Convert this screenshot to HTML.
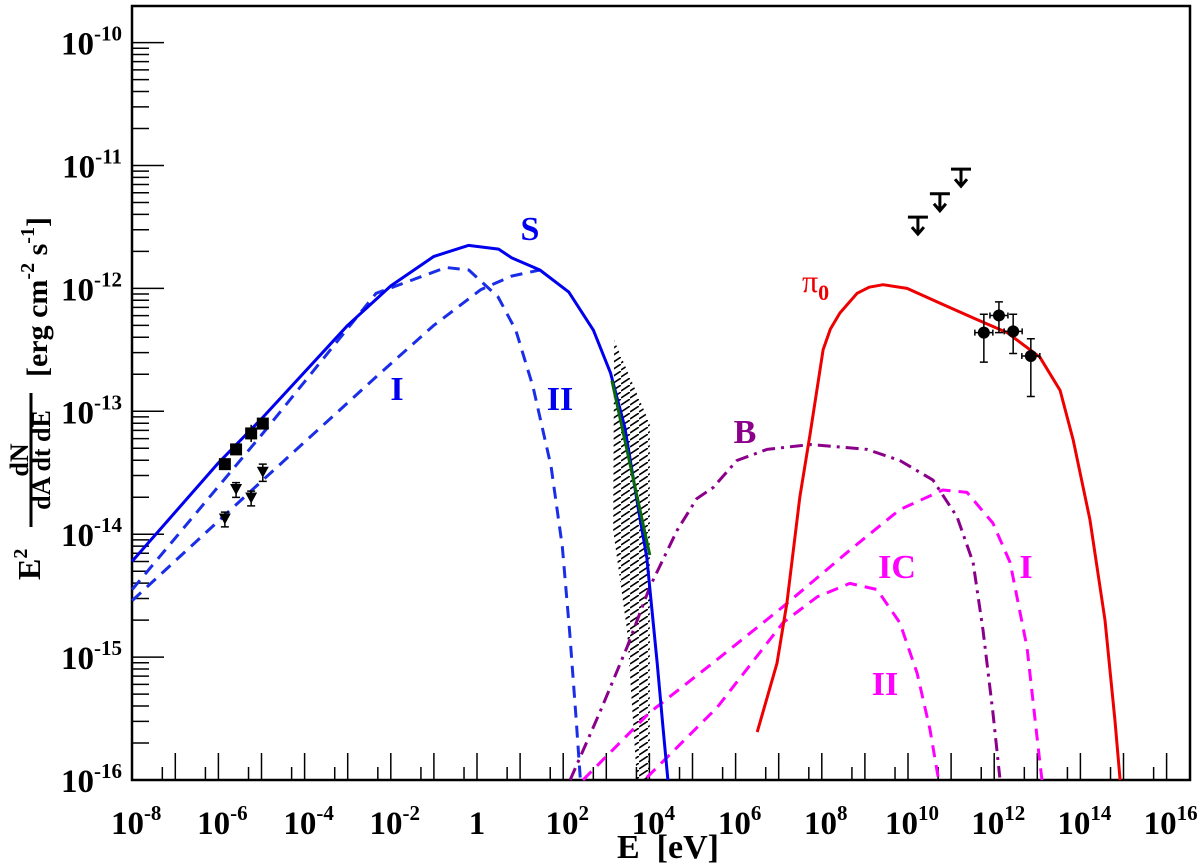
<!DOCTYPE html>
<html><head><meta charset="utf-8"><style>
html,body{margin:0;padding:0;background:#fff;}
svg{display:block;font-family:"Liberation Serif",serif;font-weight:bold;}
</style></head><body>
<svg id="chart" width="1200" height="867" viewBox="0 0 1200 867" xmlns="http://www.w3.org/2000/svg">
<defs>
<pattern id="hatch" patternUnits="userSpaceOnUse" width="9" height="7">
<line x1="0" y1="6" x2="9" y2="0" stroke="#000" stroke-width="1.6"/>
</pattern>
</defs>
<rect x="132" y="6" width="1058" height="774" fill="none" stroke="#000" stroke-width="2.5"/>
<g id="ticks"></g>
<g id="marks"></g>
<g id="labels">
<text x="530" y="240" fill="#0000ee" font-size="34" text-anchor="middle">S</text>
<text x="397" y="400" fill="#0000ee" font-size="34" text-anchor="middle">I</text>
<text x="560" y="410" fill="#0000ee" font-size="34" text-anchor="middle">II</text>
<text x="745" y="443" fill="#8b008b" font-size="34" text-anchor="middle">B</text>
<text x="897" y="578" fill="#ff00ff" font-size="34" text-anchor="middle">IC</text>
<text x="1026" y="578" fill="#ff00ff" font-size="34" text-anchor="middle">I</text>
<text x="885" y="695" fill="#ff00ff" font-size="34" text-anchor="middle">II</text>
<text x="802" y="292" fill="#ee0000" font-size="32" font-weight="normal">π<tspan font-size="22" dy="8" font-weight="bold">0</tspan></text>
<text x="617" y="858" font-size="34" xml:space="preserve">E  [eV]</text>
<g transform="translate(40,0) rotate(-90)">
<text x="-580" y="0" font-size="32">E<tspan font-size="20" dy="-13">2</tspan></text>
<text x="-460" y="-12" font-size="26" text-anchor="middle">dN</text>
<line x1="-527" y1="-9" x2="-393" y2="-9" stroke="#000" stroke-width="3"/>
<text x="-460" y="10" font-size="26" text-anchor="middle">dA dt dE</text>
<text x="-377" y="7" font-size="30">[erg cm<tspan font-size="20" dy="-13">-2</tspan><tspan dy="13"> s</tspan><tspan font-size="20" dy="-13">-1</tspan><tspan dy="13">]</tspan></text>
</g>
</g>
</svg>
<script>
const syncTotal = [[-8,-14.22],[-6,-13.42],[-4.97,-13.05],[-3,-12.3],[-2,-11.98],[-1,-11.74],[-0.2,-11.65],[0.5,-11.68],[0.8,-11.75],[1.46,-11.85],[2.13,-12.03],[2.7,-12.34],[3.1,-12.69],[3.43,-13.13],[3.76,-13.83],[3.94,-14.19],[4.18,-15.05],[4.32,-15.59],[4.43,-16]];
const syncI = [[-8,-14.54],[-4.97,-13.56],[-2.34,-12.72],[-1,-12.3],[0.09,-12.01],[0.8,-11.9],[1.46,-11.85]];
const syncII = [[-8,-14.45],[-4.97,-13.18],[-2.34,-12.04],[-0.72,-11.83],[-0.19,-11.85],[0.49,-12.07],[0.9,-12.34],[1.3,-12.8],[1.72,-13.45],[1.98,-14.1],[2.15,-14.8],[2.3,-15.5],[2.4,-16]];
const xrayFit = [[3.13,-12.75],[4.01,-14.17]];
const hatchBand = [[3.18,-12.42],[4.01,-13.1],[4.01,-16],[3.71,-16],[3.48,-14.78],[3.16,-13.97]];
const brems = [[2.16,-16],[2.85,-15.45],[3.48,-14.92],[4.01,-14.43],[4.64,-13.97],[5.1,-13.71],[5.48,-13.62],[6.03,-13.4],[6.73,-13.31],[7.73,-13.27],[9.05,-13.31],[9.81,-13.4],[10.58,-13.56],[11.14,-13.86],[11.51,-14.23],[11.74,-14.78],[11.97,-15.45],[12.13,-15.98]];
const icI = [[2.46,-16],[4.01,-15.45],[5.57,-15.02],[7.1,-14.59],[8.65,-14.13],[9.81,-13.8],[10.81,-13.64],[11.37,-13.66],[11.97,-13.91],[12.37,-14.23],[12.76,-14.92],[13.06,-15.86],[13.11,-16]];
const icII = [[3.94,-15.98],[5.57,-15.41],[7.1,-14.72],[7.89,-14.51],[8.65,-14.4],[9.28,-14.45],[9.81,-14.72],[10.21,-15.13],[10.51,-15.59],[10.7,-15.98]];
const pion = [[6.5,-15.61],[6.96,-15.05],[7.19,-14.56],[7.49,-13.7],[7.73,-13.18],[8.03,-12.5],[8.2,-12.33],[8.42,-12.2],[8.82,-12.04],[9.1,-11.99],[9.42,-11.97],[9.98,-12.0],[10.74,-12.12],[11.51,-12.24],[12.3,-12.36],[13.06,-12.56],[13.53,-12.83],[13.83,-13.23],[14.22,-13.88],[14.57,-14.7],[14.8,-15.51],[14.92,-16]];
const radioE = [-5.85,-5.59,-5.24,-4.97];
const radioF = [-13.43,-13.31,-13.18,-13.1];
const radioErr = [0.03,0.04,0.07,0.03];
const optE = [-5.85,-5.59,-5.24,-4.97];
const optF = [-13.88,-13.64,-13.71,-13.5];
const optErr = [0.06,0.06,0.06,0.07];
const tevE = [11.76,12.11,12.44,12.85];
const tevF = [-12.36,-12.22,-12.35,-12.55];
const tevLo = [-12.6,-12.36,-12.53,-12.88];
const tevHi = [-12.21,-12.11,-12.21,-12.41];
const ulE = [10.23,10.74,11.23];
const ulF = [-11.42,-11.23,-11.03];
const xTickLabels = ["10^-8","10^-6","10^-4","10^-2","1","10^2","10^4","10^6","10^8","10^10","10^12","10^14","10^16"];
const yTickLabels = ["10^-16","10^-15","10^-14","10^-13","10^-12","10^-11","10^-10"];

const NS="http://www.w3.org/2000/svg";
const X = v => 477 + 43.1*v;
const Y = v => 780 - (v+16)*122.9;
const ticks = document.getElementById('ticks');
const marks = document.getElementById('marks');
function mk(tag, attrs, parent){const e=document.createElementNS(NS,tag);for(const k in attrs)e.setAttribute(k,attrs[k]);parent.appendChild(e);return e;}
function supText(str, x, y, anchor, parent){
  const t=mk('text',{x:x,y:y,'font-size':33,'text-anchor':anchor},parent);
  const p=str.split('^');
  t.appendChild(document.createTextNode(p[0]));
  if(p[1]){const s=mk('tspan',{'font-size':21,dy:-14},t);s.textContent=p[1];}
  return t;
}
for(let d=-8; d<=16; d++){
  const l=mk('line',{x1:X(d),x2:X(d),y1:780,y2:753,stroke:'#000','stroke-width':1.5},ticks);
  
  
  const m=d+Math.log10(5);
  if(X(m)<1188){
    const s=mk('line',{x1:X(m),x2:X(m),y1:780,y2:767,stroke:'#000','stroke-width':1.5},ticks);
    
    
  }
}
xTickLabels.forEach((lab,i)=>{
  const t=supText(lab, X(-8+2*i)+(lab==="1"?0:4), 834, 'middle', ticks);
  
  
});
for(let d=-16; d<=-10; d++){
  const l=mk('line',{x1:132,x2:164,y1:Y(d),y2:Y(d),stroke:'#000','stroke-width':1.5},ticks);
  
  
  for(let k=2;k<=9;k++){
    const v=d+Math.log10(k);
    if(Y(v)<8) continue;
    const s=mk('line',{x1:132,x2:149,y1:Y(v),y2:Y(v),stroke:'#000','stroke-width':1.5},ticks);
    
    
  }
}
yTickLabels.forEach((lab,i)=>{
  const t=supText(lab, 122, Y(-16+i)+12, 'end', ticks);
  
  
});
function pts(arr){return arr.map(p=>X(p[0]).toFixed(1)+','+Y(p[1]).toFixed(1)).join(' ');}
const hb=mk('polygon',{points:pts(hatchBand),fill:'url(#hatch)',stroke:'none'},marks);


function curve(arr,color,dash,w){return mk('polyline',{points:pts(arr),fill:'none',stroke:color,'stroke-width':w||3,'stroke-dasharray':dash||'none','stroke-linejoin':'round'},marks);}
let c;
c=curve(syncI,'#1a2ee8','12 8');


c=curve(syncII,'#1a2ee8','12 8');


c=curve(brems,'#8b008b','13 6 3 6');


c=curve(icI,'#ff00ff','12 8');


c=curve(icII,'#ff00ff','12 8');


c=curve(syncTotal,'#0000ee');


c=curve(xrayFit,'#0a6a0a');


c=curve(pion,'#ee0000');


radioE.forEach((e,i)=>{
  const x=X(e),y=Y(radioF[i]);
  const eb=mk('line',{x1:x,x2:x,y1:Y(radioF[i]+radioErr[i]),y2:Y(radioF[i]-radioErr[i]),stroke:'#000','stroke-width':1.5},marks);
  
  
  const r=mk('rect',{x:x-6,y:y-6,width:12,height:12,fill:'#000'},marks);
  
  
});
optE.forEach((e,i)=>{
  const x=X(e),y=Y(optF[i]);
  const eb=mk('path',{d:`M${x},${Y(optF[i]+optErr[i])}V${Y(optF[i]-optErr[i])}M${x-4},${Y(optF[i]+optErr[i])}h8M${x-4},${Y(optF[i]-optErr[i])}h8`,stroke:'#000','stroke-width':1.5,fill:'none'},marks);
  
  
  const t=mk('polygon',{points:`${x-6},${y-6} ${x+6},${y-6} ${x},${y+5}`,fill:'#000'},marks);
  
  
});
tevE.forEach((e,i)=>{
  const x=X(e),y=Y(tevF[i]);
  const eb=mk('path',{d:`M${x},${Y(tevHi[i])}V${Y(tevLo[i])}M${x-4},${Y(tevHi[i])}h8M${x-4},${Y(tevLo[i])}h8M${x-9},${y}h18M${x-9},${y-3}v6M${x+9},${y-3}v6`,stroke:'#000','stroke-width':1.5,fill:'none'},marks);
  
  
  const p=mk('circle',{cx:x,cy:y,r:6,fill:'#000'},marks);
  
  
});
ulE.forEach((e,i)=>{
  const x=X(e),y=Y(ulF[i]);
  const u=mk('path',{d:`M${x-10},${y}h20M${x},${y}v17M${x-6},${y+10}L${x},${y+17}L${x+6},${y+10}`,stroke:'#000','stroke-width':3,fill:'none'},marks);
  
  
});
</script>
</body></html>
